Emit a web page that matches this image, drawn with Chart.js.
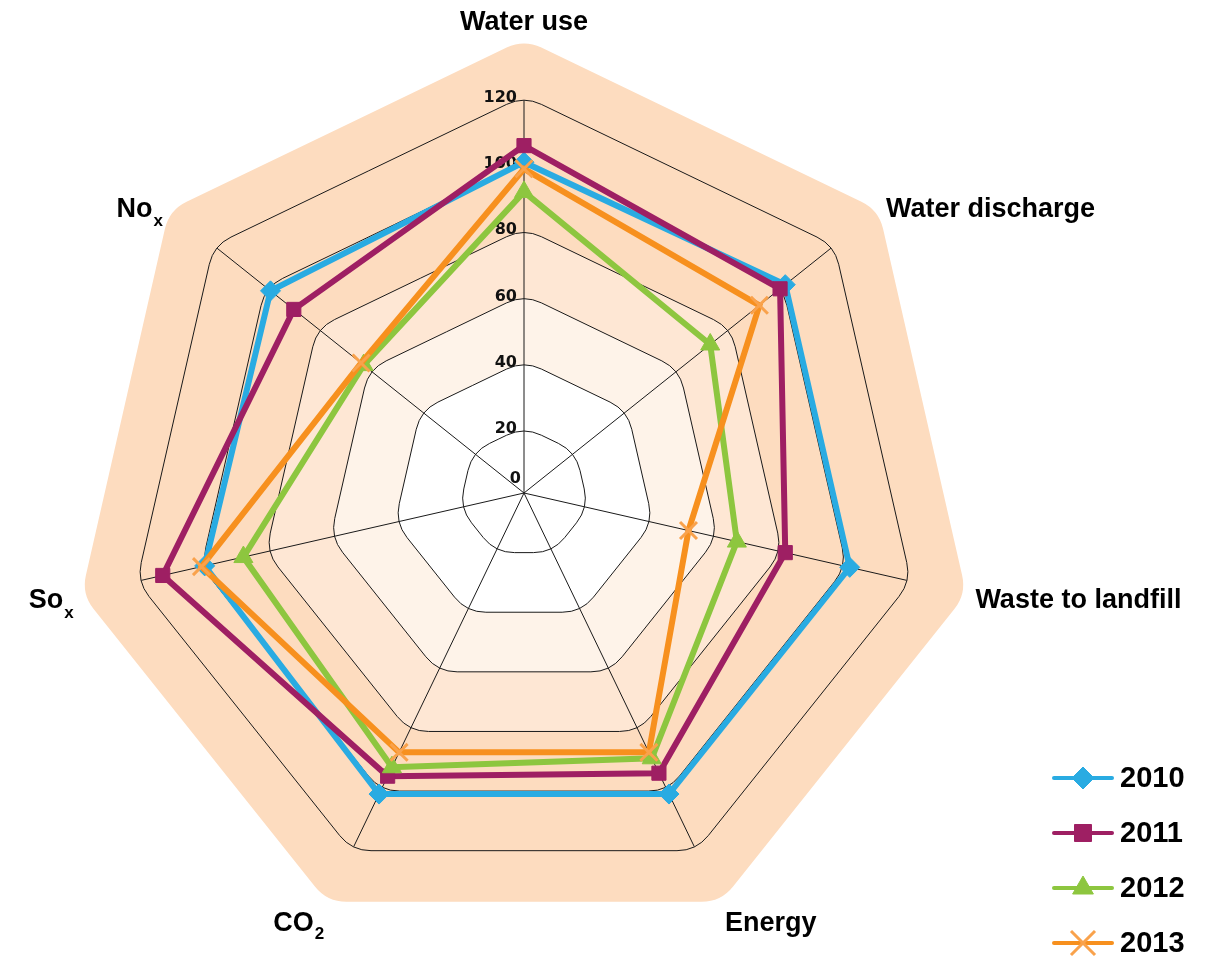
<!DOCTYPE html>
<html>
<head>
<meta charset="utf-8">
<script src="https://cdn.jsdelivr.net/npm/chart.js@4/dist/chart.umd.min.js"></script>
<style>
  html, body { margin: 0; padding: 0; background: #fff; }
  #wrap { width: 1208px; height: 960px; position: relative; }
</style>
</head>
<body>
<div id="wrap"><canvas id="radar"></canvas></div>
<script>
  'use strict';

  // Data.
  const categories = ['Water use', 'Water discharge', 'Waste to landfill', 'Energy', 'CO₂', 'Soₓ', 'Noₓ'];
  const years = ['2010', '2011', '2012', '2013'];
  const values2010 = [100, 101, 101, 101, 101, 99, 98];
  const values2011 = [105, 99, 81, 94, 95, 112, 89];
  const values2012 = [91, 72, 66, 89, 92, 87, 62];
  const values2013 = [98, 91, 51, 87, 87, 100, 63];
  const tickValues = [0, 20, 40, 60, 80, 100, 120];

  const seriesColors = ['#29ABE2', '#9E1F63', '#8DC63F', '#F7901E'];
  const markerColors = ['#29ABE2', '#9E1F63', '#8DC63F', '#F9A24C'];
  const markerStyles = ['rectRot', 'rect', 'triangle', 'crossRot'];
  const markerRadius = [10, 10, 11, 12];
  const legendRadius = [11, 12, 12, 17];

  const labelFont = 'bold 27px "Liberation Sans", Arial, sans-serif';
  const subFont = 'bold 17px "Liberation Sans", Arial, sans-serif';
  const tickFont = 'bold 16px "DejaVu Sans", sans-serif';
  const legendFont = 'bold 29px "Liberation Sans", Arial, sans-serif';

  function ringPoints(scale, dist) {
    let pts = [];
    for (let i = 0; i < categories.length; i++) {
      pts.push(scale.getPointPosition(i, dist));
    }
    return pts;
  }

  function roundedPath(ctx, pts, rad) {
    let n = pts.length;
    ctx.beginPath();
    ctx.moveTo((pts[n - 1].x + pts[0].x) / 2, (pts[n - 1].y + pts[0].y) / 2);
    for (let i = 0; i < n; i++) {
      let p = pts[i];
      let q = pts[(i + 1) % n];
      ctx.arcTo(p.x, p.y, q.x, q.y, rad);
    }
    ctx.closePath();
  }

  function cornerFor(dist) {
    return Math.min(40, dist * 0.8);
  }

  // background bands, rounded rings, spokes and tick labels
  const radarBackdrop = {
    id: 'radarBackdrop',
    beforeDatasetsDraw(chart) {
      let scale = chart.scales.r;
      let ctx = chart.ctx;
      let R = scale.drawingArea;
      ctx.save();

      roundedPath(ctx, ringPoints(scale, R * 1.143), 40);
      ctx.fillStyle = '#FDDCBF';
      ctx.fill();

      let bands = [[80, '#FEE7D4'], [60, '#FEF3E9'], [40, '#FFFFFF']];
      bands.forEach(([v, col]) => {
        let d = scale.getDistanceFromCenterForValue(v);
        roundedPath(ctx, ringPoints(scale, d), cornerFor(d));
        ctx.fillStyle = col;
        ctx.fill();
      });

      ctx.strokeStyle = '#1a1a1a';
      ctx.lineWidth = 1;
      tickValues.forEach((v) => {
        if (v === 0) {
          return;
        }
        let d = scale.getDistanceFromCenterForValue(v);
        roundedPath(ctx, ringPoints(scale, d), cornerFor(d));
        ctx.stroke();
      });

      let outer = scale.getDistanceFromCenterForValue(tickValues[tickValues.length - 1]);
      let spokeEnd = outer - cornerFor(outer) * 0.11;
      for (let i = 0; i < categories.length; i++) {
        let p = scale.getPointPosition(i, spokeEnd);
        ctx.beginPath();
        ctx.moveTo(scale.xCenter, scale.yCenter);
        ctx.lineTo(p.x, p.y);
        ctx.stroke();
      }

      ctx.font = tickFont;
      ctx.fillStyle = '#111';
      ctx.textAlign = 'right';
      ctx.textBaseline = 'alphabetic';
      tickValues.forEach((v) => {
        let d = scale.getDistanceFromCenterForValue(v);
        let x = scale.xCenter - (v === 0 ? 3 : 7);
        let y = scale.yCenter - Math.max(d - 6, 10);
        ctx.fillText(String(v), x, y);
      });
      ctx.restore();
    },

    afterDraw(chart) {
      let scale = chart.scales.r;
      let ctx = chart.ctx;
      let R = scale.drawingArea;
      ctx.save();
      ctx.fillStyle = '#000';

      // axis labels, trailing subscript characters drawn small and low
      categories.forEach((label, i) => {
        let deg = i * 360 / categories.length;
        let p = scale.getPointPosition(i, R + 66);
        let main = label.replace(/[₂ₓ]+$/, '');
        let sub = label.slice(main.length).replace('₂', '2').replace('ₓ', 'x');
        ctx.font = labelFont;
        let wm = ctx.measureText(main).width;
        ctx.font = subFont;
        let ws = sub ? ctx.measureText(sub).width : 0;
        let total = wm + ws;
        let x0;
        let y = p.y;
        let baseline;
        if (deg === 0) {
          x0 = p.x - total / 2;
          baseline = 'alphabetic';
        }
        else {
          x0 = deg < 180 ? p.x : p.x - total;
          if (deg > 120 && deg < 240) {
            baseline = 'top';
          }
          else {
            baseline = 'middle';
            y += 5;
          }
        }
        ctx.textAlign = 'left';
        ctx.textBaseline = baseline;
        ctx.font = labelFont;
        ctx.fillText(main, x0, y);
        if (sub) {
          ctx.font = subFont;
          ctx.fillText(sub, x0 + wm + 1, y + (baseline === 'top' ? 16 : 12));
        }
      });

      // legend: line with marker, then year
      let lx = chart.width - 154;
      chart.data.datasets.forEach((ds, i) => {
        let y = 778 + i * 55;
        ctx.strokeStyle = ds.borderColor;
        ctx.lineWidth = 4;
        ctx.lineCap = 'round';
        ctx.beginPath();
        ctx.moveTo(lx, y);
        ctx.lineTo(lx + 58, y);
        ctx.stroke();
        ctx.lineCap = 'butt';
        ctx.fillStyle = ds.pointBackgroundColor;
        ctx.strokeStyle = ds.pointBorderColor;
        ctx.lineWidth = ds.pointBorderWidth;
        Chart.helpers.drawPoint(ctx, {
          pointStyle: ds.pointStyle,
          radius: legendRadius[i],
          rotation: 0,
          borderWidth: ds.pointBorderWidth,
        }, lx + 29, y);
        ctx.fillStyle = '#000';
        ctx.font = legendFont;
        ctx.textAlign = 'left';
        ctx.textBaseline = 'middle';
        ctx.fillText(ds.label, lx + 66, y + 1);
      });
      ctx.restore();
    },
  };

  let allValues = [values2010, values2011, values2012, values2013];
  let datasets = years.map((year, i) => ({
    label: year,
    data: allValues[i],
    borderColor: seriesColors[i],
    borderWidth: 6,
    borderJoinStyle: 'miter',
    fill: false,
    pointStyle: markerStyles[i],
    pointRadius: markerRadius[i],
    pointBackgroundColor: markerColors[i],
    pointBorderColor: markerColors[i],
    pointBorderWidth: i === 3 ? 3 : 1,
    order: years.length - 1 - i,
  }));

  let config = {
    type: 'radar',
    data: {
      labels: categories,
      datasets: datasets,
    },
    options: {
      responsive: true,
      maintainAspectRatio: false,
      animation: false,
      layout: {
        padding: {left: 127, right: 287, top: 96, bottom: 70},
      },
      plugins: {
        legend: {display: false},
        tooltip: {enabled: false},
      },
      scales: {
        r: {
          min: 0,
          max: 120,
          ticks: {stepSize: 20, display: false},
          grid: {display: false},
          angleLines: {display: false},
          pointLabels: {display: false},
        },
      },
    },
    plugins: [radarBackdrop],
  };

  let radarChart = new Chart(document.getElementById('radar'), config);
</script>
</body>
</html>
